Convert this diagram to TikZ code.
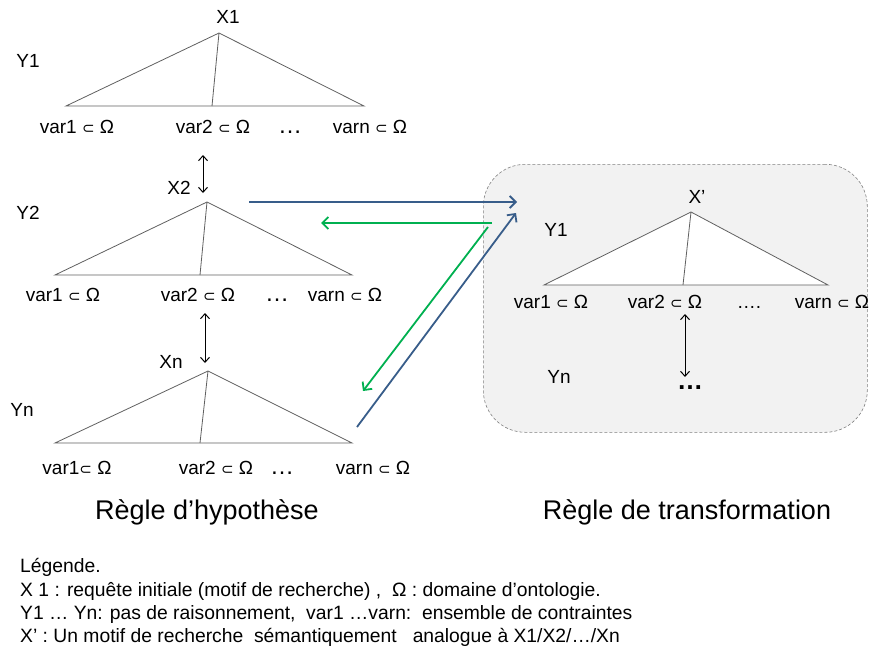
\documentclass[tikz,border=0pt]{standalone}
\usepackage{fontspec}
\setmainfont{Liberation Sans}
\newfontfamily\symfnt{DejaVu Sans}
\usetikzlibrary{arrows.meta}
\definecolor{arrblue}{RGB}{56,93,138}
\definecolor{arrgreen}{RGB}{0,176,80}
\definecolor{boxgray}{RGB}{242,242,242}
\definecolor{trigray}{RGB}{96,96,96}
\newcommand{\subsym}{{\symfnt\fontsize{15}{17}\selectfont ⊂}}
\begin{document}
\begin{tikzpicture}[x=1pt,y=-1pt,
  lbl/.style={inner sep=0pt, anchor=base, font=\fontsize{19}{21}\selectfont},
  dots/.style={inner sep=0pt, anchor=base, font=\fontsize{24}{26}\selectfont},
  big/.style={inner sep=0pt, anchor=base, font=\fontsize{27}{30}\selectfont},
  leg/.style={inner sep=0pt, anchor=base west, font=\fontsize{19.3}{21}\selectfont},
  tri/.style={draw=trigray, line width=0.8pt, fill=white, line join=miter},
  inner/.style={draw=trigray, line width=0.8pt},
  dbl/.style={{Straight Barb[length=5pt,width=9pt]}-{Straight Barb[length=5pt,width=9pt]}, line width=1pt},
  bluearr/.style={draw=arrblue, line width=1.8pt, -{Straight Barb[length=6pt,width=12pt]}},
  greenarr/.style={draw=arrgreen, line width=1.8pt, -{Straight Barb[length=6pt,width=12pt]}},
  tbox/.style={draw=gray, densely dashed, line width=0.6pt, fill=boxgray, rounded corners=42pt, inner sep=0pt}]
\useasboundingbox (0,0) rectangle (869,648);

% right box
\node[tbox, anchor=north west, minimum width=384pt, minimum height=268pt] (box) at (483,164) {};

% ---- triangle 1
\coordinate (a1) at (219,33); \coordinate (l1) at (66,106); \coordinate (r1) at (364,106); \coordinate (m1) at (212,106);
\draw[tri] (l1) -- (a1) -- (r1) -- cycle;
\draw[inner] (a1) -- (m1);
\node[lbl] (x1) at (228,23.5) {X1};
\node[lbl] (y1) at (28,67.5) {Y1};
\node[lbl] (v11) at (77,133.5) {var1 \subsym\ Ω};
\node[lbl] (v12) at (213,133.5) {var2 \subsym\ Ω};
\node[dots] (d1) at (290,133.5) {…};
\node[lbl] (v1n) at (370,133.5) {varn \subsym\ Ω};

% ---- triangle 2
\coordinate (a2) at (207,202); \coordinate (l2) at (55,275); \coordinate (r2) at (352,275); \coordinate (m2) at (200,275);
\draw[tri] (l2) -- (a2) -- (r2) -- cycle;
\draw[inner] (a2) -- (m2);
\node[lbl] (x2) at (179,194.5) {X2};
\node[lbl] (y2) at (28,219.5) {Y2};
\node[lbl] (v21) at (63,301.5) {var1 \subsym\ Ω};
\node[lbl] (v22) at (198,301.5) {var2 \subsym\ Ω};
\node[dots] (d2) at (277,301.5) {…};
\node[lbl] (v2n) at (345,301.5) {varn \subsym\ Ω};

% ---- triangle 3
\coordinate (a3) at (208,371); \coordinate (l3) at (55,443); \coordinate (r3) at (352,443); \coordinate (m3) at (200,443);
\draw[tri] (l3) -- (a3) -- (r3) -- cycle;
\draw[inner] (a3) -- (m3);
\node[lbl] (xn) at (171,368.5) {Xn};
\node[lbl] (yn) at (22,416.5) {Yn};
\node[lbl] (v31) at (77,474.5) {var1\subsym\ Ω};
\node[lbl] (v32) at (216,474.5) {var2 \subsym\ Ω};
\node[dots] (d3) at (282,474.5) {…};
\node[lbl] (v3n) at (373,474.5) {varn \subsym\ Ω};

% ---- double arrows on the left
\coordinate (da1s) at (203,155); \coordinate (da1e) at (203,193);
\draw[dbl] (da1s) -- (da1e);
\coordinate (da2s) at (205,313); \coordinate (da2e) at (205,363);
\draw[dbl] (da2s) -- (da2e);

% ---- triangle in the box
\coordinate (a4) at (691,212); \coordinate (l4) at (544,285); \coordinate (r4) at (828,285); \coordinate (m4) at (683,285);
\draw[tri] (l4) -- (a4) -- (r4) -- cycle;
\draw[inner] (a4) -- (m4);
\node[lbl] (xp) at (697,203.5) {X’};
\node[lbl] (yb1) at (556,236.5) {Y1};
\node[lbl] (v41) at (551,308.5) {var1 \subsym\ Ω};
\node[lbl] (v42) at (665,308.5) {var2 \subsym\ Ω};
\node[lbl] (d4) at (749,308.5) {….};
\node[lbl] (v4n) at (832,308.5) {varn \subsym\ Ω};
\node[lbl] (ybn) at (559,383.5) {Yn};
\node[inner sep=0pt, anchor=base, font=\fontsize{26}{28}\selectfont\bfseries] (d5) at (690,389) {…};
\coordinate (da3s) at (685,314); \coordinate (da3e) at (685,377);
\draw[dbl] (da3s) -- (da3e);

% ---- blue and green arrows
\coordinate (b1s) at (249,202); \coordinate (b1e) at (517,202);
\draw[bluearr] (b1s) -- (b1e);
\coordinate (g1s) at (492,223); \coordinate (g1e) at (321,223);
\draw[greenarr] (g1s) -- (g1e);
\coordinate (g2s) at (488,227); \coordinate (g2e) at (363,391);
\draw[greenarr] (g2s) -- (g2e);
\coordinate (b2s) at (357,427); \coordinate (b2e) at (516,213);
\draw[bluearr] (b2s) -- (b2e);

% ---- titles
\node[big] (t1) at (207,519) {Règle d’hypothèse};
\node[big] (t2) at (687,519) {Règle de transformation};

% ---- legend
\node[leg] (lg0) at (20,572) {Légende.};
\node[leg] (lg1) at (20,596) {X 1 : requête initiale (motif de recherche) ,\ \ Ω : domaine d’ontologie.};
\node[leg] (lg2) at (20,619) {Y1 … Yn: pas de raisonnement,\ \ var1 …varn:\ \ ensemble de contraintes};
\node[leg] (lg3) at (20,642) {X’ : Un motif de recherche\ \ sémantiquement\ \ \ analogue à X1/X2/…/Xn};
\end{tikzpicture}
\end{document}
